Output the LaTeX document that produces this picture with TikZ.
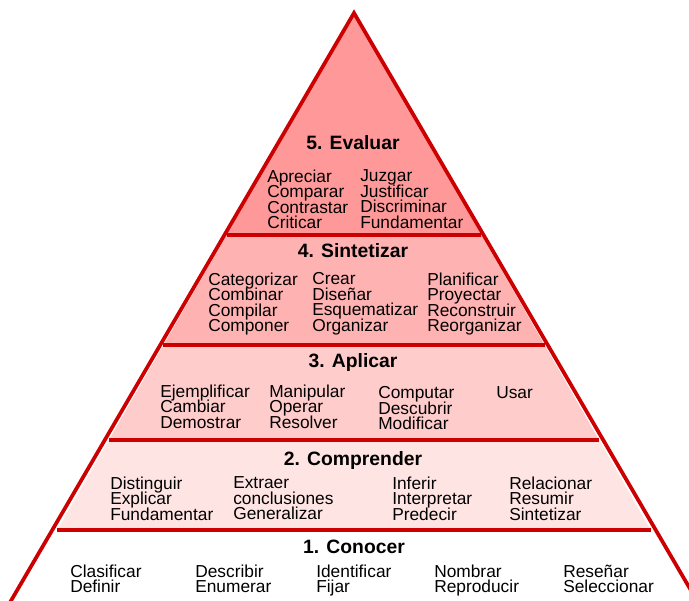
\documentclass[tikz,border=0pt]{standalone}
\usepackage{fontspec}
\setmainfont{Liberation Sans}
\usepackage{xcolor}
\usepackage{tikz}
\definecolor{pyrred}{RGB}{204,0,0}
\definecolor{band5}{RGB}{255,153,153}
\definecolor{band4}{RGB}{255,178,178}
\definecolor{band3}{RGB}{255,204,204}
\definecolor{band2}{RGB}{255,228,228}
\begin{document}
\begin{tikzpicture}[x=0.75pt,y=-0.75pt,
  lvl/.style={font=\fontsize{14.5}{17}\selectfont\bfseries,inner sep=0pt,anchor=base},
  vb/.style={font={\fontsize{13}{11.6}\selectfont\lineskiplimit=-20pt},align=left,anchor=north west,inner sep=0pt},
  rim/.style={draw=pyrred,line width=2.8pt}]
\useasboundingbox (0,0) rectangle (689,600);
\clip (0,0) rectangle (689,600);
\fill[band5] (354,13)--(481.4,235)--(226.6,235)--cycle;
\fill[band4] (226.6,235)--(481.4,235)--(544.6,345)--(163.4,345)--cycle;
\fill[band3] (163.4,345)--(544.6,345)--(599.1,440)--(108.9,440)--cycle;
\fill[band2] (108.9,440)--(599.1,440)--(650.8,530)--(57.2,530)--cycle;
\draw[rim] (226.6,235)--(481.4,235);
\draw[rim] (163.4,345)--(544.6,345);
\draw[rim] (108.9,440)--(599.1,440);
\draw[rim] (57.2,530)--(650.8,530);
\draw[rim,line join=miter] (5.6,610)--(354,13)--(702.4,610);
\node[lvl] (l5) at (353,149) {5. Evaluar};
\node[vb] (v5a) at (267,169.5) {Apreciar\\Comparar\\Contrastar\\Criticar};
\node[vb] (v5b) at (360,169.5) {Juzgar\\Justificar\\Discriminar\\Fundamentar};
\node[lvl] (l4) at (353,257) {4. Sintetizar};
\node[vb] (v4a) at (208,272.5) {Categorizar\\Combinar\\Compilar\\Componer};
\node[vb] (v4b) at (312,272.5) {Crear\\Diseñar\\Esquematizar\\Organizar};
\node[vb] (v4c) at (427,272.5) {Planificar\\Proyectar\\Reconstruir\\Reorganizar};
\node[lvl] (l3) at (353,367) {3. Aplicar};
\node[vb] (v3a) at (160,384.5) {Ejemplificar\\Cambiar\\Demostrar};
\node[vb] (v3b) at (269,384.5) {Manipular\\Operar\\Resolver};
\node[vb] (v3c) at (378,386.5) {Computar\\Descubrir\\Modificar};
\node[vb] (v3d) at (496,386.5) {Usar};
\node[lvl] (l2) at (353,465) {2. Comprender};
\node[vb] (v2a) at (110,476.5) {Distinguir\\Explicar\\Fundamentar};
\node[vb] (v2b) at (233,476.5) {Extraer\\conclusiones\\Generalizar};
\node[vb] (v2c) at (392,476.5) {Inferir\\Interpretar\\Predecir};
\node[vb] (v2d) at (509,476.5) {Relacionar\\Resumir\\Sintetizar};
\node[lvl] (l1) at (354,553) {1. Conocer};
\node[vb] (v1a) at (70,564.5) {Clasificar\\Definir};
\node[vb] (v1b) at (195,564.5) {Describir\\Enumerar};
\node[vb] (v1c) at (316,564.5) {Identificar\\Fijar};
\node[vb] (v1d) at (434,564.5) {Nombrar\\Reproducir};
\node[vb] (v1e) at (563,564.5) {Reseñar\\Seleccionar};
\end{tikzpicture}
\end{document}
